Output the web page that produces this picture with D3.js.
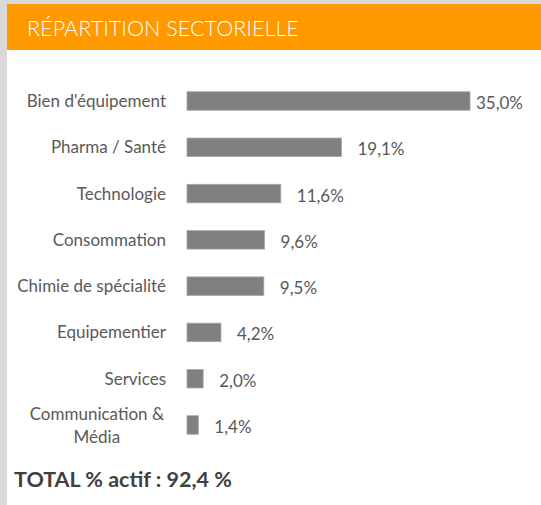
<!DOCTYPE html>
<html>
<head>
<meta charset="utf-8">
<script src="https://cdn.jsdelivr.net/npm/d3@7"></script>
<style>
  html, body { margin: 0; padding: 0; background: #fff; }
  svg { display: block; font-family: Lato, 'Open Sans', sans-serif; }
</style>
</head>
<body>
<script>
// sector weights, in % of assets
const sectors = ['Bien d\'équipement', 'Pharma / Santé', 'Technologie', 'Consommation',
  'Chimie de spécialité', 'Equipementier', 'Services', 'Communication &\nMédia'];
const weights = [35.0, 19.1, 11.6, 9.6, 9.5, 4.2, 2.0, 1.4];
const title = 'RÉPARTITION SECTORIELLE';
const totalLabel = 'TOTAL % actif : 92,4 %';

const width = 541, height = 505;
const frLocale = d3.formatLocale({decimal: ',', thousands: ' ', grouping: [3], currency: ['', ' €']});
const fmt = frLocale.format('.1f');

const svg = d3.select('body').append('svg')
  .attr('width', width)
  .attr('height', height);

// grey frame on the left and top
svg.append('rect').attr('width', width).attr('height', height).attr('fill', '#d9d9d9');
svg.append('rect').attr('x', 7).attr('y', 4).attr('width', width - 7).attr('height', height - 4).attr('fill', '#fff');

// header band
svg.append('rect')
  .attr('x', 7).attr('y', 4)
  .attr('width', width - 7).attr('height', 46)
  .attr('fill', '#ff9900');
svg.append('text')
  .attr('x', 27).attr('y', 36)
  .attr('fill', '#fff')
  .style('font-size', '21.6px')
  .style('font-weight', 300)
  .text(title);

const data = sectors.map((s, i) => ({name: s, value: weights[i]}));

const x = d3.scaleLinear()
  .domain([0, d3.max(weights)])
  .range([187, 470]);

const y = d3.scalePoint()
  .domain(sectors)
  .range([101, 425]);

const barH = 18.5;

const rows = svg.append('g').selectAll('g')
  .data(data)
  .enter().append('g')
  .attr('transform', d => `translate(0, ${y(d.name)})`);

rows.append('rect')
  .attr('x', x(0))
  .attr('y', -barH / 2)
  .attr('width', d => x(d.value) - x(0))
  .attr('height', barH)
  .attr('fill', '#808080')
  .attr('stroke', '#a6a6a6')
  .attr('stroke-width', 0.8);

// category labels (wrapped ones are centred on their longest line)
rows.each(function(d) {
  const lines = d.name.split('\n');
  const g = d3.select(this);
  const t = g.append('text')
    .attr('fill', '#595959')
    .style('font-size', '17px');
  const lineH = 23;
  lines.forEach((l, i) => {
    t.append('tspan')
      .attr('y', 6 + (i - (lines.length - 1) / 2) * lineH)
      .text(l);
  });
  if (lines.length === 1) {
    t.attr('text-anchor', 'end');
    t.selectAll('tspan').attr('x', 166);
  } else {
    const widths = t.selectAll('tspan').nodes().map(n => n.getComputedTextLength());
    const maxW = d3.max(widths);
    t.attr('text-anchor', 'middle');
    t.selectAll('tspan').attr('x', 164 - maxW / 2);
  }
});

// value labels
rows.append('text')
  .attr('fill', '#595959')
  .style('font-size', '17px')
  .attr('y', 8)
  .text(d => fmt(d.value) + '%')
  .attr('x', function(d) {
    const w = this.getComputedTextLength();
    return Math.min(x(d.value) + 16, 523 - w);
  });

svg.append('text')
  .attr('x', 14).attr('y', 487)
  .attr('fill', '#404040')
  .style('font-size', '21.5px')
  .style('font-weight', 'bold')
  .text(totalLabel);
</script>
</body>
</html>
